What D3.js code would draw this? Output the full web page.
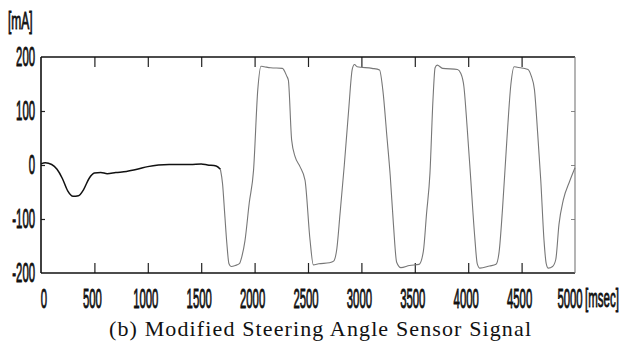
<!DOCTYPE html>
<html>
<head>
<meta charset="utf-8">
<script src="https://cdn.jsdelivr.net/npm/d3@7"></script>
<style>
  html, body { margin: 0; padding: 0; background: #fff; }
  svg { display: block; }
</style>
</head>
<body>
<script>
// Steering angle sensor current over time
const timeMs = [
  0, 40, 100, 150, 200, 250, 300, 350, 400, 450, 500, 560, 620, 700, 800, 900, 1000, 1100, 1200, 1300,
  1400, 1500, 1560, 1640, 1680,
  1700, 1720, 1740, 1760, 1780, 1820, 1860, 1880, 1910, 1950, 1990, 2030, 2060, 2090, 2150, 2260,
  2300, 2316, 2347, 2380, 2425, 2472, 2519, 2550, 2600, 2700, 2740, 2770, 2800, 2840, 2880, 2915,
  2935, 2960, 3100, 3170, 3200, 3240, 3270, 3300, 3330, 3370, 3450, 3540, 3580, 3610, 3642, 3670,
  3690, 3710, 3760, 3900, 3930, 3960, 3990, 4020, 4060, 4085, 4110, 4200, 4260, 4290, 4320, 4360,
  4400, 4430, 4460, 4560, 4590, 4620, 4650, 4680, 4710, 4730, 4750, 4790, 4820, 4850, 4890, 4950, 5000
];
const currentMA = [
  2, 4, 1, -8, -25, -48, -58, -57, -45, -25, -15, -14, -16, -14, -12, -8, -3, 0, 1, 1,
  1, 2, 0, -2, -8,
  -35, -90, -145, -183, -188, -186, -182, -170, -140, -70, -10, 140, 183, 182, 180, 179,
  165, 157, 46, 15, -3, -28, -139, -185, -183, -181, -178, -155, -90, 0, 100, 178,
  186, 182, 179, 176, 140, 50, -20, -110, -180, -190, -186, -184, -160, -90, -15, 120,
  180, 185, 179, 177, 170, 145, 70, -15, -130, -183, -191, -187, -184, -160, -85, 40,
  150, 182, 181, 177, 165, 140, 60, -30, -140, -182, -191, -188, -175, -110, -65, -30, -5
];
// the early, slowly varying part of the trace is printed darker
const darkUntilMs = 1690;

const xTicks = [0, 500, 1000, 1500, 2000, 2500, 3000, 3500, 4000, 4500, 5000];
const yTicks = [-200, -100, 0, 100, 200];
const yUnit = "[mA]";
const xUnit = "[msec]";
const caption = "(b) Modified Steering Angle Sensor Signal";

const W = 632, H = 358;
const plot = { left: 41, right: 575, top: 57, bottom: 273 };

const svg = d3.select("body").append("svg")
  .attr("width", W).attr("height", H);

const x = d3.scaleLinear().domain([0, 5000]).range([plot.left, plot.right]);
const y = d3.scaleLinear().domain([-200, 200]).range([plot.bottom, plot.top]);

const data = timeMs.map((t, i) => ({ t, v: currentMA[i] }));
const line = d3.line().x(d => x(d.t)).y(d => y(d.v)).curve(d3.curveMonotoneX);

// inward ticks on all four sides
const axisStyle = g => {
  g.select(".domain").remove();
  g.selectAll(".tick text").remove();
  g.selectAll(".tick line").attr("stroke", "#222").attr("stroke-width", 1.2);
};
const inner = xTicks.slice(1, -1);
svg.append("g").attr("transform", `translate(0,${plot.bottom})`)
  .call(d3.axisTop(x).tickValues(inner).tickSize(10)).call(axisStyle);
svg.append("g").attr("transform", `translate(0,${plot.top})`)
  .call(d3.axisBottom(x).tickValues(inner).tickSize(10)).call(axisStyle);
svg.append("g").attr("transform", `translate(${plot.left},0)`)
  .call(d3.axisRight(y).tickValues([-100, 0, 100]).tickSize(4)).call(axisStyle);
svg.append("g").attr("transform", `translate(${plot.right},0)`)
  .call(d3.axisLeft(y).tickValues([-100, 0, 100]).tickSize(4)).call(axisStyle)
  .selectAll(".tick line").attr("stroke", "#888").attr("stroke-width", 1);

// frame
svg.append("line").attr("x1", plot.left).attr("x2", plot.left)
  .attr("y1", plot.top).attr("y2", plot.bottom).attr("stroke", "#111").attr("stroke-width", 1.6);
svg.append("line").attr("x1", plot.left).attr("x2", plot.right)
  .attr("y1", plot.top).attr("y2", plot.top).attr("stroke", "#111").attr("stroke-width", 1.6);
svg.append("line").attr("x1", plot.left).attr("x2", plot.right)
  .attr("y1", plot.bottom).attr("y2", plot.bottom).attr("stroke", "#111").attr("stroke-width", 1.6);
svg.append("line").attr("x1", plot.right).attr("x2", plot.right)
  .attr("y1", plot.top).attr("y2", plot.bottom).attr("stroke", "#777").attr("stroke-width", 1.1);

// signal trace
svg.append("path")
  .datum(data.filter(d => d.t >= darkUntilMs - 10))
  .attr("d", line).attr("fill", "none")
  .attr("stroke", "#777").attr("stroke-width", 1.1);
svg.append("path")
  .datum(data.filter(d => d.t <= darkUntilMs))
  .attr("d", line).attr("fill", "none")
  .attr("stroke", "#111").attr("stroke-width", 1.5);

// narrow tick labels
const FONT = "'Liberation Sans', Arial, sans-serif";
function narrowText(str, cx, cy, anchor, size, sx) {
  const g = svg.append("g").attr("transform", `translate(${cx},${cy}) scale(${sx},1)`);
  g.append("text").text(str)
    .attr("text-anchor", anchor).attr("dominant-baseline", "central")
    .attr("font-family", FONT).attr("font-size", size)
    .attr("fill", "#111").attr("stroke", "#111").attr("stroke-width", 0.9);
  return g;
}
yTicks.forEach(v => narrowText(String(v), 35, y(v) - 1, "end", 27, 0.42));
xTicks.forEach(t => narrowText(String(t), t === 5000 ? x(t) - 5 : x(t) + (t === 0 ? 3 : -2), 298, "middle", 27, 0.42));
narrowText(yUnit, 8, 21, "start", 24, 0.5);
narrowText(xUnit, 585, 298, "start", 25, 0.46);

// caption
svg.append("text").text(caption)
  .attr("x", 109).attr("y", 336)
  .attr("textLength", 422).attr("lengthAdjust", "spacing")
  .attr("font-family", "'Liberation Serif', 'Times New Roman', serif")
  .attr("font-size", 22).attr("fill", "#111");
</script>
</body>
</html>
